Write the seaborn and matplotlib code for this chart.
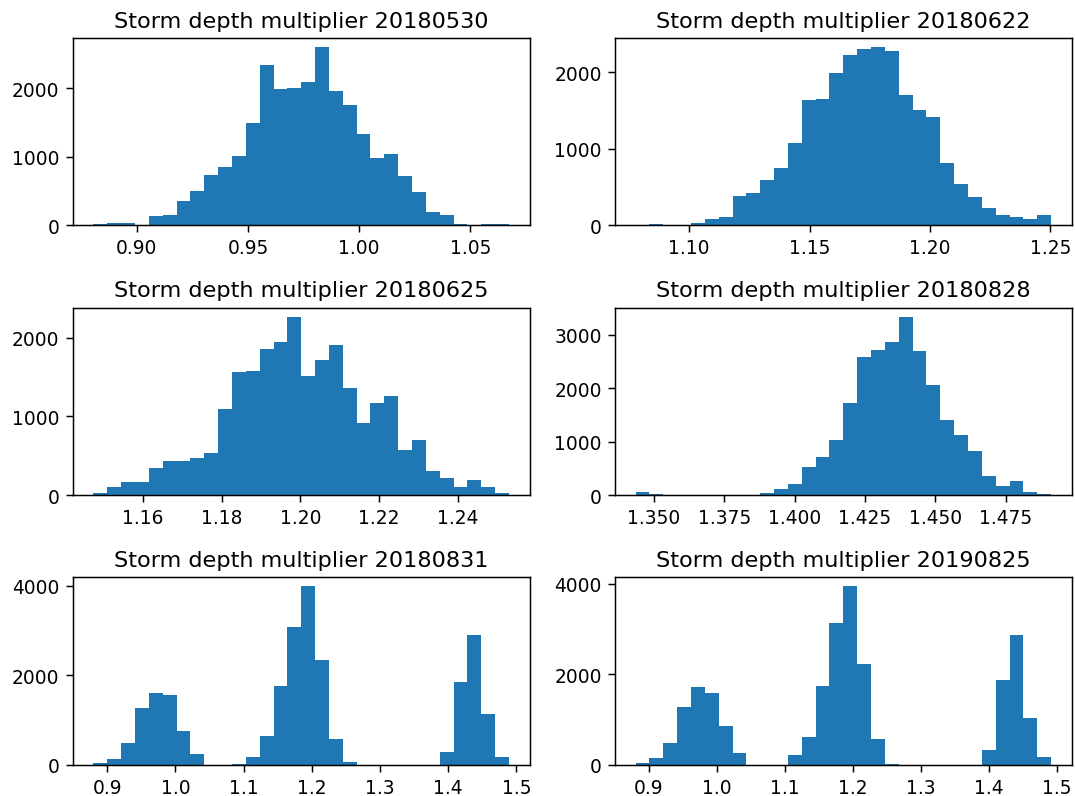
import numpy as np
import pandas as pd
import matplotlib
matplotlib.use('Agg')
import matplotlib.pyplot as plt
import seaborn as sns

plt.rcParams['font.family'] = ['DejaVu Sans']
plt.rcParams['font.size'] = 10
plt.rcParams['axes.titlesize'] = 12
plt.rcParams['xtick.labelsize'] = 10
plt.rcParams['ytick.labelsize'] = 10

# storm dates (panel titles)
dates = ["20180530", "20180622", "20180625", "20180828", "20180831", "20190825"]

# histogram ranges (min, max of the samples), 30 bins each
ranges = [
    (0.8805, 1.0674),
    (1.0777, 1.2503),
    (1.14746, 1.25297),
    (1.34348, 1.49111),
    (0.87995, 1.48924),
    (0.88037, 1.49176),
]

# bin counts
counts_20180530 = [20, 40, 40, 10, 135, 155, 353, 502, 734, 850,
                   1005, 1498, 2329, 1981, 2000, 2087, 2599, 1952, 1749, 1338,
                   981, 1039, 720, 483, 198, 155, 20, 10, 20, 25]
counts_20180622 = [4, 13, 4, 2, 35, 87, 113, 383, 422, 596,
                   743, 1078, 1635, 1652, 1983, 2222, 2309, 2330, 2283, 1696,
                   1513, 1413, 813, 535, 370, 230, 139, 113, 87, 130]
counts_20180625 = [21, 97, 165, 165, 347, 427, 427, 469, 537, 1099,
                   1564, 1577, 1852, 1941, 2271, 1510, 1717, 1903, 1357, 918,
                   1167, 1264, 571, 706, 300, 216, 97, 190, 97, 21]
counts_20180828 = [62, 12, 2, 0, 0, 0, 0, 1, 3, 44,
                   106, 212, 524, 717, 1023, 1728, 2595, 2720, 2863, 3344,
                   2695, 2059, 1404, 1123, 817, 356, 168, 256, 62, 25]
counts_20180831 = [30, 119, 475, 1276, 1610, 1566, 764, 237, 0, 0,
                   22, 163, 638, 1766, 3080, 3993, 2345, 579, 59, 0,
                   0, 0, 0, 0, 0, 282, 1840, 2894, 1135, 163]
counts_20190825 = [37, 139, 484, 1275, 1714, 1575, 857, 264, 0, 0,
                   0, 212, 615, 1751, 3128, 3949, 2234, 564, 7, 0,
                   0, 0, 0, 0, 0, 322, 1868, 2879, 1026, 161]

all_counts = [counts_20180530, counts_20180622, counts_20180625,
              counts_20180828, counts_20180831, counts_20190825]

# tick labels as shown on each panel
x_ticks = [
    ['0.90', '0.95', '1.00', '1.05'],
    ['1.10', '1.15', '1.20', '1.25'],
    ['1.16', '1.18', '1.20', '1.22', '1.24'],
    ['1.350', '1.375', '1.400', '1.425', '1.450', '1.475'],
    ['0.9', '1.0', '1.1', '1.2', '1.3', '1.4', '1.5'],
    ['0.9', '1.0', '1.1', '1.2', '1.3', '1.4', '1.5'],
]
y_ticks = [
    [0, 1000, 2000],
    [0, 1000, 2000],
    [0, 1000, 2000],
    [0, 1000, 2000, 3000],
    [0, 2000, 4000],
    [0, 2000, 4000],
]

fig, axes = plt.subplots(3, 2, figsize=(8, 5.93))
fig.subplots_adjust(left=0.0676, right=0.9969, top=0.9511, bottom=0.0393,
                    wspace=0.186, hspace=0.4385)

for i, ax in enumerate(axes.flat):
    lo, hi = ranges[i]
    counts = all_counts[i]
    n = len(counts)
    width = (hi - lo) / n
    df = pd.DataFrame({
        'multiplier': lo + width * (np.arange(n) + 0.5),
        'count': counts,
    })
    sns.histplot(data=df, x='multiplier', weights='count', bins=n,
                 binrange=(lo, hi), ax=ax, color='#1f77b4', alpha=1,
                 linewidth=0)
    ax.set_title(f'Storm depth multiplier {dates[i]}')
    ax.set_xlabel('')
    ax.set_ylabel('')
    ax.set_xticks([float(t) for t in x_ticks[i]])
    ax.set_xticklabels(x_ticks[i])
    ax.set_yticks(y_ticks[i])

fig.savefig('out.png', dpi=134.4)
